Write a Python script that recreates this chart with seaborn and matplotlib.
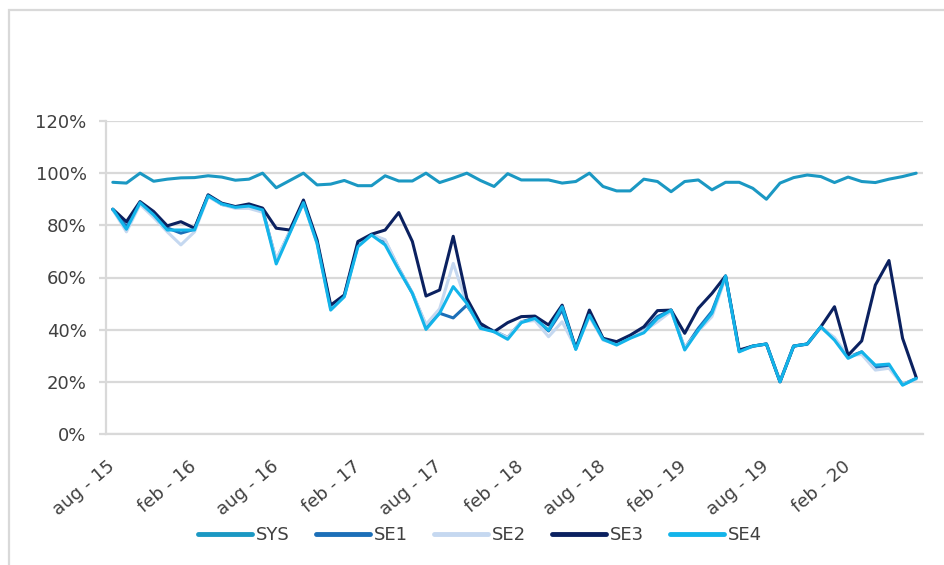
import numpy as np
import pandas as pd
import matplotlib
matplotlib.use("Agg")
import matplotlib.pyplot as plt
from matplotlib.patches import Rectangle
from matplotlib.ticker import FuncFormatter
from matplotlib.transforms import ScaledTranslation
import seaborn as sns

# Monthly shares (%), aug-15 .. jul-20
sys_vals = [96.5, 96.2, 100.0, 96.9, 97.7, 98.2, 98.3, 99.0, 98.5, 97.3,
            97.7, 100.0, 94.4, 97.2, 100.0, 95.5, 95.8, 97.2, 95.2, 95.2,
            99.0, 97.0, 97.0, 100.0, 96.4, 98.1, 100.0, 97.2, 94.9, 99.8,
            97.4, 97.4, 97.4, 96.2, 96.8, 100.0, 94.9, 93.2, 93.2, 97.7,
            96.8, 92.9, 96.8, 97.4, 93.6, 96.5, 96.5, 94.2, 90.0, 96.2,
            98.3, 99.3, 98.7, 96.4, 98.5, 96.8, 96.4, 97.7, 98.7, 100.0]

se1_vals = [86.0, 79.5, 88.5, 84.5, 79.0, 77.0, 78.5, 91.5, 88.0, 87.0,
            87.5, 86.0, 66.5, 77.5, 89.0, 73.5, 48.5, 53.0, 72.5, 76.5,
            74.0, 63.5, 54.0, 41.5, 46.3, 44.5, 49.4, 41.5, 39.5, 37.0,
            43.0, 44.5, 39.5, 47.5, 33.0, 46.0, 36.5, 34.5, 37.0, 39.5,
            45.0, 47.5, 32.8, 40.5, 47.0, 60.5, 31.8, 33.7, 34.5, 20.1,
            33.7, 34.5, 41.0, 36.5, 29.5, 31.5, 25.5, 26.0, 19.0, 21.3]

se2_vals = [86.0, 77.5, 88.0, 83.0, 77.5, 72.5, 77.5, 91.0, 88.0, 86.5,
            86.5, 85.0, 67.0, 77.5, 88.5, 73.0, 48.0, 53.0, 72.5, 76.5,
            74.5, 63.5, 54.0, 42.0, 48.0, 65.4, 50.0, 40.5, 39.5, 37.0,
            43.0, 43.5, 37.3, 43.0, 33.0, 45.0, 36.0, 34.5, 37.0, 39.5,
            43.0, 47.0, 33.0, 39.5, 45.0, 60.0, 31.8, 33.5, 34.5, 20.3,
            33.8, 34.3, 40.8, 37.0, 30.0, 30.5, 24.5, 25.2, 19.0, 21.0]

se3_vals = [86.2, 81.4, 89.1, 85.3, 79.8, 81.4, 78.9, 91.7, 88.5, 87.2,
            88.2, 86.6, 78.9, 78.2, 89.7, 74.4, 49.4, 53.3, 73.8, 76.6,
            78.2, 84.9, 73.8, 52.9, 55.2, 75.8, 52.0, 42.4, 39.2, 42.7,
            45.0, 45.2, 41.8, 49.4, 32.8, 47.5, 36.7, 35.4, 37.9, 41.1,
            47.3, 47.5, 38.6, 48.2, 53.9, 60.6, 32.2, 33.7, 34.5, 20.0,
            33.7, 34.5, 41.1, 48.8, 30.2, 35.7, 57.1, 66.5, 36.7, 21.7]

se4_vals = [86.2, 78.5, 88.7, 84.0, 78.2, 78.2, 78.2, 91.3, 88.2, 86.9,
            87.4, 85.9, 65.2, 77.0, 88.7, 73.1, 47.5, 52.6, 71.8, 76.3,
            72.5, 62.9, 53.9, 40.1, 46.3, 56.5, 50.1, 40.5, 39.2, 36.3,
            42.7, 44.3, 39.8, 48.8, 32.4, 45.6, 36.3, 34.1, 36.7, 38.8,
            44.3, 47.5, 32.2, 39.8, 46.3, 60.6, 31.5, 33.7, 34.5, 20.0,
            33.7, 34.5, 41.1, 36.0, 29.0, 31.5, 26.4, 26.8, 18.7, 21.3]

series_names = ["SYS", "SE1", "SE2", "SE3", "SE4"]
series_colors = ["#1b98c3", "#1c6fb8", "#c5d8f0", "#0b2160", "#13b4ea"]

tick_positions = [0, 6, 12, 18, 24, 30, 36, 42, 48, 54]
tick_labels = ["aug - 15", "feb - 16", "aug - 16", "feb - 17", "aug - 17",
               "feb - 18", "aug - 18", "feb - 19", "aug - 19", "feb - 20"]

frames = []
for name, vals in zip(series_names, [sys_vals, se1_vals, se2_vals, se3_vals, se4_vals]):
    frames.append(pd.DataFrame({"month": np.arange(len(vals)), "share": vals, "series": name}))
df = pd.concat(frames, ignore_index=True)

sns.set_theme(style="white")
plt.rcParams["font.family"] = ["DejaVu Sans"]

grey = "#d9d9d9"
text_col = "#404040"

fig = plt.figure(figsize=(9.44, 5.65), dpi=100)
ax = fig.add_axes([106 / 944, 1 - 434 / 565, 817 / 944, 313 / 565])

sns.lineplot(data=df, x="month", y="share", hue="series", hue_order=series_names,
             palette=dict(zip(series_names, series_colors)), linewidth=2.2,
             ax=ax, legend=True)

ax.set_xlim(-0.5, 59.5)
ax.set_ylim(0, 120)
ax.set_yticks(np.arange(0, 121, 20))
ax.yaxis.set_major_formatter(FuncFormatter(lambda v, p: f"{v:.0f}%"))
ax.set_xticks(tick_positions)
ax.set_xticklabels(tick_labels, rotation=40, ha="right", va="center",
                   rotation_mode="anchor")
# nudge the slanted month labels a little to the right
shift = ScaledTranslation(4 / 100, 0, fig.dpi_scale_trans)
for lbl in ax.get_xticklabels():
    lbl.set_transform(lbl.get_transform() + shift)
ax.set_xlabel("")
ax.set_ylabel("")

ax.yaxis.grid(True, color=grey, linewidth=1.6)
ax.xaxis.grid(False)
ax.set_axisbelow(True)
for s in ["top", "right"]:
    ax.spines[s].set_visible(False)
for s in ["left", "bottom"]:
    ax.spines[s].set_color(grey)
    ax.spines[s].set_linewidth(1.6)

ax.tick_params(axis="y", which="major", left=True, length=5, width=1.6,
               color=grey, pad=9, labelsize=13, labelcolor=text_col)
ax.tick_params(axis="x", which="major", bottom=False, length=0, pad=22,
               labelsize=13, labelcolor=text_col)

leg = ax.legend(loc="center", bbox_to_anchor=((480 - 106) / 817, (434 - 535) / 313),
                ncol=5, frameon=False, fontsize=13, handlelength=3.0,
                handletextpad=0.2, columnspacing=1.45)
for line in leg.get_lines():
    line.set_linewidth(3.5)
for t in leg.get_texts():
    t.set_color(text_col)

# Outer chart frame
fig.add_artist(Rectangle((9 / 944, -0.05), 1.2, (1 - 10 / 565) + 0.05,
                         transform=fig.transFigure, fill=False,
                         edgecolor=grey, linewidth=1.6))

fig.savefig("out.png", dpi=100, facecolor="white")
